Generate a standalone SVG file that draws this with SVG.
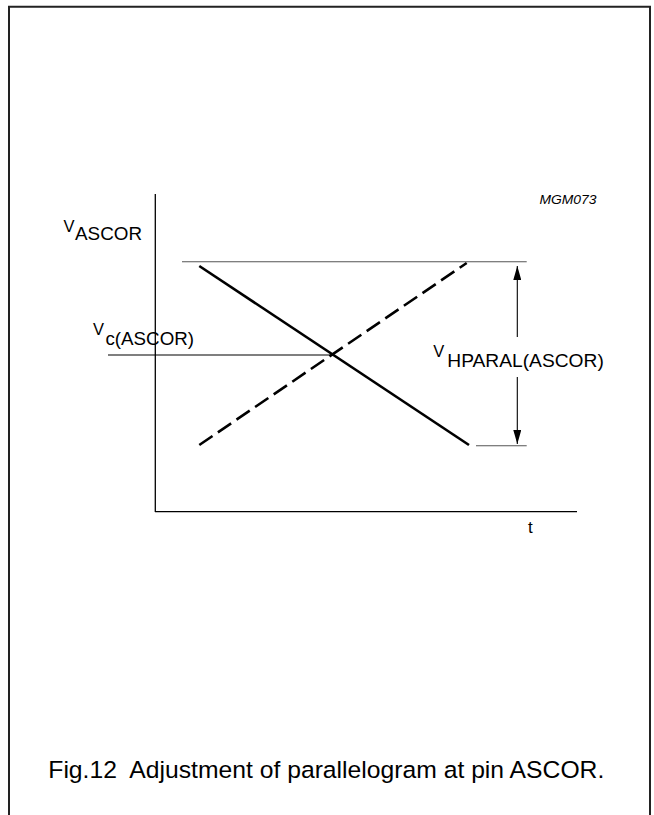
<svg xmlns="http://www.w3.org/2000/svg" width="654" height="815" viewBox="0 0 654 815">
<style>
text{font-family:"Liberation Sans",Arial,sans-serif;fill:#000}
.ax{stroke:#000;stroke-width:1.3;fill:none}
.ref{stroke:#555;stroke-width:1.1;fill:none}
.thin{stroke:#000;stroke-width:1.1;fill:none}
.curve{stroke:#000;stroke-width:2.6;fill:none}
.dash{stroke-dasharray:16 6.5}
</style>
<defs>
<marker id="ah" viewBox="0 0 14 8" refX="14" refY="4" markerWidth="14" markerHeight="8" markerUnits="userSpaceOnUse" orient="auto">
<path d="M0,0 L14,4 L0,8 Z" fill="#000"/>
</marker>
</defs>
<rect x="0" y="0" width="654" height="815" fill="#fff"/>
<path d="M9,815 V6.7 H650 V815" fill="none" stroke="#222" stroke-width="2"/>
<g id="axes">
<line class="ax" x1="155.3" y1="194" x2="155.3" y2="512"/>
<line class="ax" x1="155" y1="511.7" x2="577" y2="511.7"/>
</g>
<g id="connectors">
<line class="ref" x1="182" y1="261.7" x2="526.7" y2="261.7"/>
<line class="ref" x1="476" y1="445.7" x2="526.7" y2="445.7"/>
<line class="thin" x1="108" y1="355" x2="333" y2="355"/>
<line class="curve" x1="199.3" y1="266" x2="469" y2="445"/>
<line class="curve dash" x1="199.3" y1="445" x2="466.7" y2="263"/>
<line class="thin" x1="517.3" y1="337" x2="517.3" y2="266" marker-end="url(#ah)"/>
<line class="thin" x1="517.3" y1="377" x2="517.3" y2="444" marker-end="url(#ah)"/>
</g>
<g id="label-vascor">
<text x="63.5" y="231.5" font-size="16.5">V</text>
<text x="75" y="239.5" font-size="19" textLength="67" lengthAdjust="spacingAndGlyphs">ASCOR</text>
</g>
<g id="label-vc">
<text x="93" y="335" font-size="16.5">V</text>
<text x="105.5" y="345" font-size="19" textLength="88.5" lengthAdjust="spacingAndGlyphs">c(ASCOR)</text>
</g>
<g id="label-vhparal">
<text x="433.3" y="356.5" font-size="16.5">V</text>
<text x="447.3" y="366.5" font-size="19" textLength="156.5" lengthAdjust="spacingAndGlyphs">HPARAL(ASCOR)</text>
</g>
<g id="label-t">
<text x="528" y="533" font-size="17">t</text>
</g>
<g id="label-mgm">
<text x="539.5" y="204" font-size="12" font-style="italic" textLength="57" lengthAdjust="spacingAndGlyphs">MGM073</text>
</g>
<g id="caption">
<text x="48.3" y="778" font-size="24.5" textLength="556" lengthAdjust="spacingAndGlyphs" xml:space="preserve">Fig.12  Adjustment of parallelogram at pin ASCOR.</text>
</g>
</svg>
